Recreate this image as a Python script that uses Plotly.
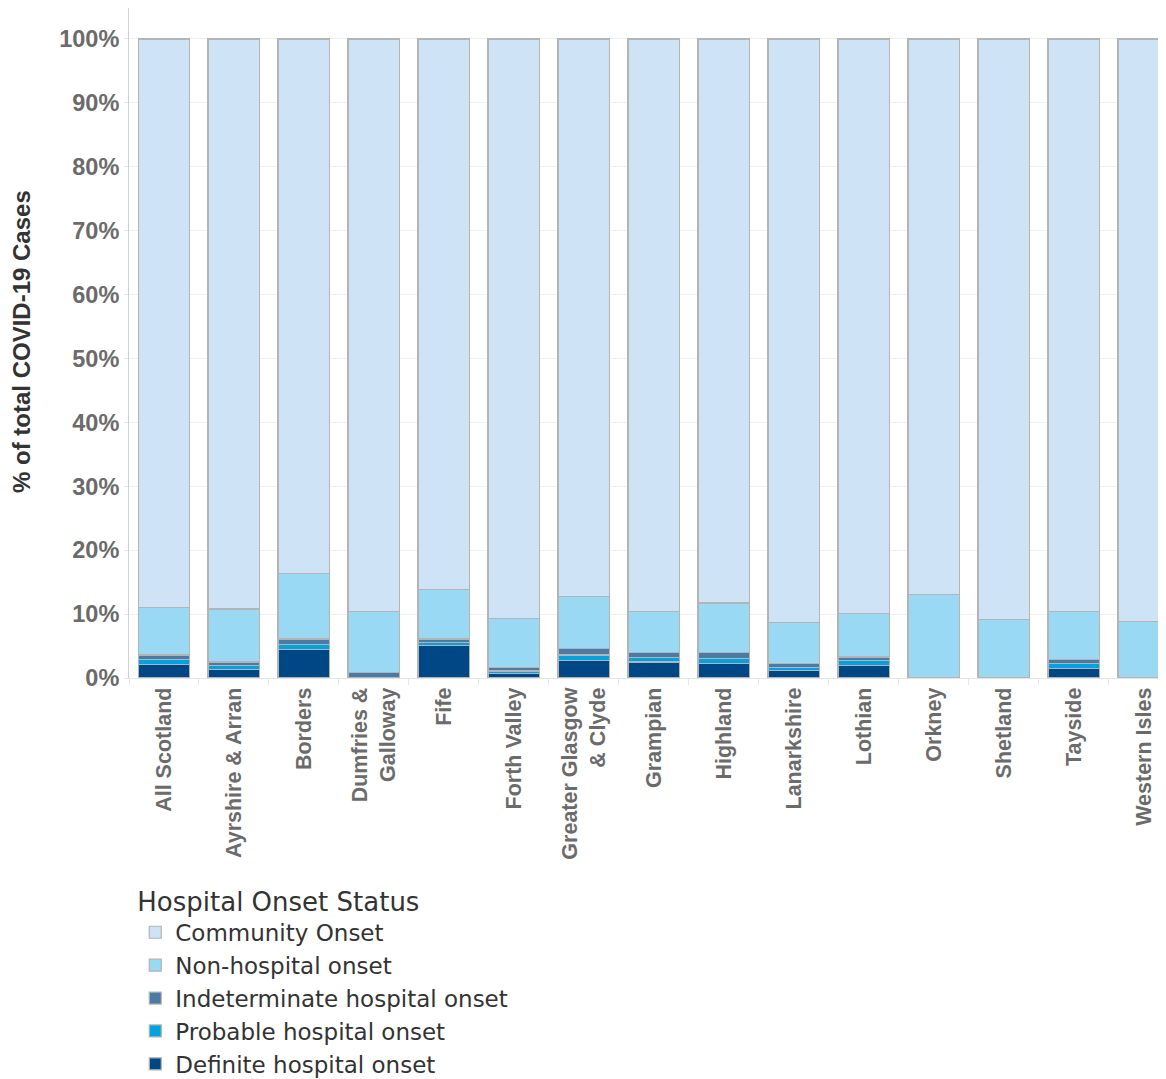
import plotly.graph_objects as go

boards = ["All Scotland", "Ayrshire & Arran", "Borders", "Dumfries &<br>Galloway", "Fife",
          "Forth Valley", "Greater Glasgow<br>& Clyde", "Grampian", "Highland", "Lanarkshire",
          "Lothian", "Orkney", "Shetland", "Tayside", "Western Isles"]

definite = [2.1, 1.35, 4.4, 0.0, 5.1, 0.7, 2.7, 2.5, 2.3, 1.2, 1.9, 0.0, 0.0, 1.5, 0.0]
probable = [0.8, 0.55, 0.9, 0.0, 0.45, 0.4, 0.9, 0.75, 0.7, 0.5, 0.8, 0.0, 0.0, 0.8, 0.0]
indeterminate = [0.7, 0.6, 0.8, 0.8, 0.55, 0.6, 1.0, 0.75, 1.0, 0.6, 0.6, 0.0, 0.0, 0.6, 0.0]
non_hospital = [7.4, 8.3, 10.3, 9.65, 7.75, 7.6, 8.1, 6.45, 7.75, 6.4, 6.8, 13.1, 9.15, 7.55, 8.8]
community = [round(100 - a - b - c - d, 2) for a, b, c, d in
             zip(definite, probable, indeterminate, non_hospital)]

series = [
    ("Definite hospital onset", definite, "#004785"),
    ("Probable hospital onset", probable, "#00a3e0"),
    ("Indeterminate hospital onset", indeterminate, "#4a7aa6"),
    ("Non-hospital onset", non_hospital, "#99d9f3"),
    ("Community Onset", community, "#cfe3f7"),
]

FONT = "Liberation Sans, Arial, sans-serif"
LFONT = "DejaVu Sans, Verdana, sans-serif"

fig = go.Figure()
for name, vals, col in series:
    fig.add_trace(go.Bar(
        x=boards, y=vals, name=name, width=0.74,
        marker=dict(color=col, line=dict(color="#b4b4b4", width=1.2)),
    ))

fig.update_layout(
    barmode="stack",
    width=1166, height=1071,
    margin=dict(l=121, r=0, t=0, b=401, autoexpand=False),
    plot_bgcolor="white", paper_bgcolor="white",
    font=dict(family=FONT),
    legend=dict(
        title=dict(text="Hospital Onset Status", font=dict(size=26, color="#333333", family=LFONT)),
        font=dict(size=23, color="#333333", family=LFONT),
        traceorder="reversed",
        x=0.006, xanchor="left", y=-0.297, yanchor="top",
        itemclick=False, tracegroupgap=0,
    ),
    showlegend=True,
    annotations=[dict(
        text="<b>% of total COVID-19 Cases</b>", textangle=-90,
        xref="paper", yref="paper", x=-0.1024, y=0.503,
        xanchor="center", yanchor="middle", showarrow=False,
        font=dict(size=24, color="#333333", family=FONT),
    )],
)

fig.update_yaxes(
    range=[0, 104.85],
    automargin=False,
    tickvals=[0, 10, 20, 30, 40, 50, 60, 70, 80, 90, 100],
    ticktext=["0%", "10%", "20%", "30%", "40%", "50%", "60%", "70%", "80%", "90%", "100%"],
    tickfont=dict(size=23.5, color="#6b6b6b", family=FONT, weight="bold"),
    showgrid=True, gridcolor="#f0f0f0", gridwidth=1,
    zeroline=False,
    showline=True, linecolor="#d0d0d0", linewidth=1,
    ticks="outside", ticklen=4, tickcolor="#e6e6e6",
)

fig.update_xaxes(
    range=[-0.5, 14.43],
    automargin=False,
    tickangle=-90,
    tickfont=dict(size=21.5, color="#6b6b6b", family=FONT, weight="bold"),
    showline=True, linecolor="#e6e6e6", linewidth=1,
    ticks="outside", tickson="boundaries", ticklen=6, tickcolor="#e6e6e6",
    showgrid=False,
)

fig.write_html("out.html")
